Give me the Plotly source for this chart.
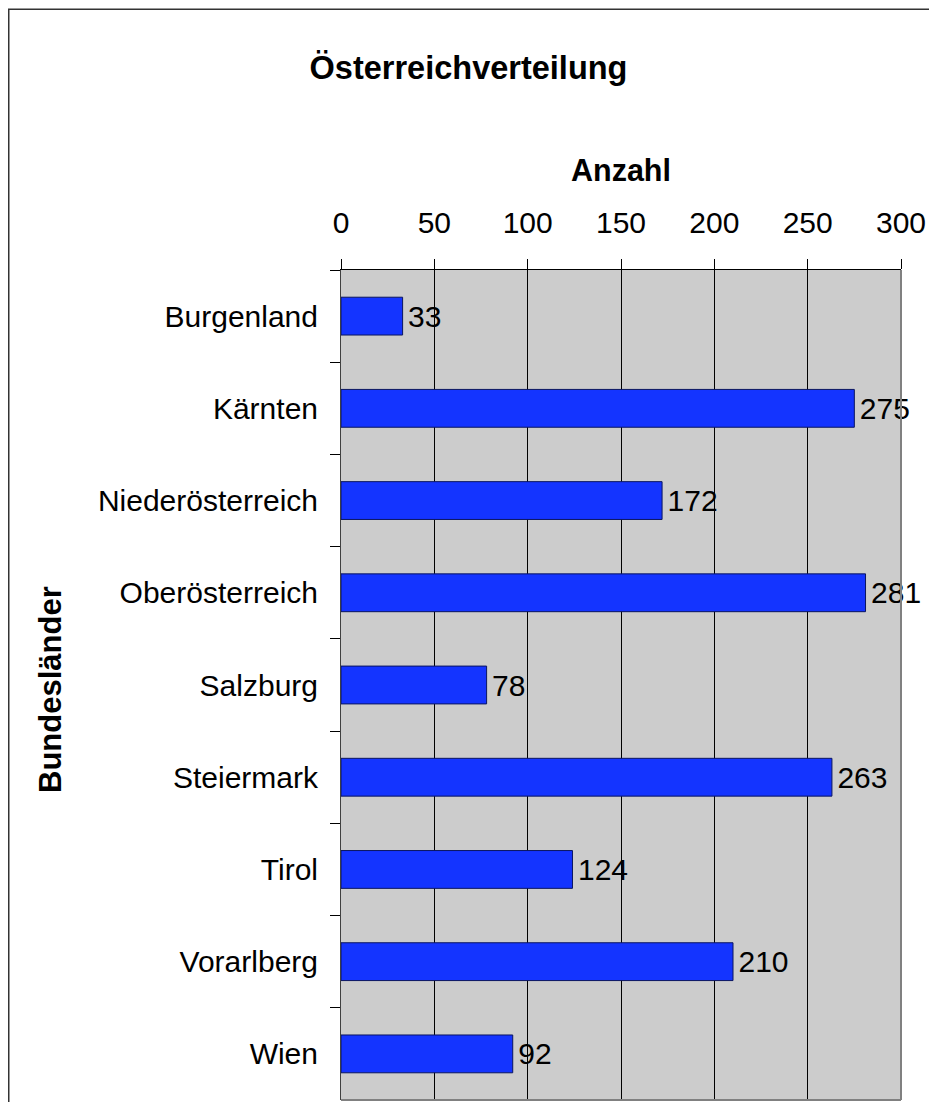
import plotly.graph_objects as go

categories = ["Burgenland", "Kärnten", "Niederösterreich", "Oberösterreich",
              "Salzburg", "Steiermark", "Tirol", "Vorarlberg", "Wien"]
values = [33, 275, 172, 281, 78, 263, 124, 210, 92]
x_ticks = [0, 50, 100, 150, 200, 250, 300]

# page is rendered with an 8px body margin
OX, OY = 8, 8
W, H = 937 - OX, 1110 - 2 * OY
L, T = 341 - OX, 270 - OY
R = W - (901 - OX)
B = H - (1100 - OY)
pw, ph = W - L - R, H - T - B

def px(xp):  # page x -> paper
    return (xp - OX - L) / pw

def py(yp):  # page y -> paper
    return (T + ph - (yp - OY)) / ph

FONT = "Liberation Sans, Arial, sans-serif"

fig = go.Figure(go.Bar(
    y=categories, x=values, orientation="h",
    marker=dict(color="#1434FF", line=dict(color="#0A1560", width=1)),
    text=[str(v) for v in values],
    texttemplate="\u200a%{text}",
    textposition="outside", cliponaxis=False, constraintext="none",
    textfont=dict(family=FONT, size=30, color="black"),
))

fig.update_layout(
    width=W, height=H,
    margin=dict(l=L, r=R, t=T, b=B, pad=0),
    paper_bgcolor="white", plot_bgcolor="#CCCCCC",
    bargap=0.59, showlegend=False,
    font=dict(family=FONT, color="black"),
    title=dict(text="Österreichverteilung", x=0.5 + (468.5 - OX - W / 2) / W, xref="container",
               y=1 - (68 - OY) / H, yanchor="middle", xanchor="center",
               font=dict(family=FONT, size=32.5, weight="bold", color="black")),
)

fig.update_xaxes(
    side="top", range=[0, 300], tickvals=x_ticks,
    ticktext=[str(t) for t in x_ticks],
    showgrid=True, gridcolor="black", gridwidth=1,
    zeroline=False, showline=True, linecolor="black", linewidth=1,
    ticks="outside", ticklen=10, tickcolor="black",
    ticklabelstandoff=14,
    tickfont=dict(family=FONT, size=30, color="black"),
)
fig.update_yaxes(
    categoryorder="array", categoryarray=categories, autorange="reversed",
    tickson="boundaries", ticks="outside", ticklen=10, tickcolor="black",
    showgrid=False, zeroline=False, showline=True, linecolor="#404040", linewidth=1,
    ticklabelstandoff=16,
    tickfont=dict(family=FONT, size=30, color="black"),
)

# plot-area right and bottom edges (gray)
fig.add_shape(type="line", xref="paper", yref="paper", x0=1, x1=1, y0=0, y1=1,
              line=dict(color="#808080", width=2), layer="above")
fig.add_shape(type="line", xref="paper", yref="paper", x0=0, x1=1, y0=0, y1=0,
              line=dict(color="#808080", width=2), layer="above")

# outer chart border
fig.add_shape(type="rect", xref="paper", yref="paper",
              x0=px(8.75), x1=px(960), y0=py(1130), y1=py(9.25),
              line=dict(color="#333333", width=1.5), fillcolor="rgba(0,0,0,0)")

fig.add_annotation(text="Anzahl", xref="paper", yref="paper", x=0.5, y=py(170),
                   xanchor="center", yanchor="middle", showarrow=False,
                   font=dict(family=FONT, size=30.5, weight="bold", color="black"))
fig.add_annotation(text="Bundesländer", xref="paper", yref="paper", x=px(50), y=py(690),
                   xanchor="center", yanchor="middle", showarrow=False, textangle=-90,
                   font=dict(family=FONT, size=31, weight="bold", color="black"))

fig.write_html("out.html")
